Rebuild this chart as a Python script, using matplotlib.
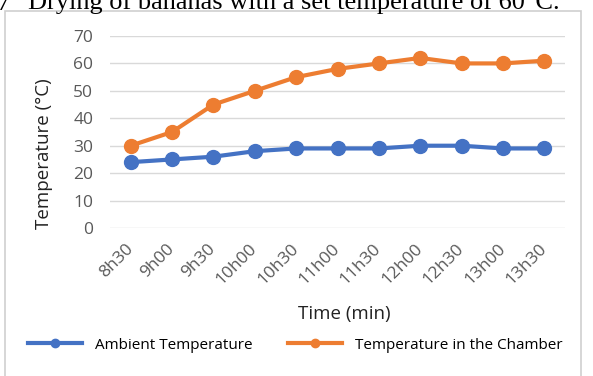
import matplotlib.pyplot as plt
from matplotlib.patches import Rectangle

times = ["8h30", "9h00", "9h30", "10h00", "10h30", "11h00", "11h30",
         "12h00", "12h30", "13h00", "13h30"]
ambient = [24, 25, 26, 28, 29, 29, 29, 30, 30, 29, 29]
chamber = [30, 35, 45, 50, 55, 58, 60, 62, 60, 60, 61]
y_ticks = [0, 10, 20, 30, 40, 50, 60, 70]

plt.rcParams['font.family'] = ['Open Sans', 'DejaVu Sans']

W, H = 593, 376
fig = plt.figure(figsize=(W / 100, H / 100), dpi=100)

# border of the chart box
fig.patches.append(Rectangle((5 / W, -0.05), 576 / W, 1.05 - 11 / H, transform=fig.transFigure,
                             fill=False, edgecolor='#cfcfcf', linewidth=1.2))

# caption of the figure, cut off at the top
fig.text(-4 / W, 1 - 9.5 / H, "7", ha='left', va='baseline', fontsize=19,
         family='Liberation Serif', color='black')
fig.text(28 / W, 1 - 9.5 / H, "Drying of bananas with a set temperature of 60°C.",
         ha='left', va='baseline', fontsize=19, family='Liberation Serif', color='black')

ax = fig.add_axes([110 / W, 1 - 228 / H, 455 / W, 192 / H])
x = range(len(times))
ax.plot(x, ambient, color='#4472C4', lw=3, marker='o', ms=10, label='Ambient Temperature')
ax.plot(x, chamber, color='#ED7D31', lw=3, marker='o', ms=10, label='Temperature in the Chamber')

ax.set_xlim(-0.5, len(times) - 0.5)
ax.set_ylim(0, 70)
ax.set_yticks(y_ticks)
ax.set_xticks(list(x))
ax.set_xticklabels(times, rotation=45, ha='right', va='center', rotation_mode='anchor')
ax.tick_params(length=0, labelsize=12.5, colors='#595959')
ax.tick_params(axis='y', pad=12)
ax.tick_params(axis='x', pad=13)
ax.grid(axis='y', color='#d9d9d9', lw=1)
ax.set_axisbelow(True)
for s in ax.spines.values():
    s.set_visible(False)

ax.set_ylabel("Temperature (°C)", fontsize=13.5, color='#222222')
ax.yaxis.set_label_coords(-0.125, 0.385)
ax.set_xlabel("Time (min)", fontsize=13.5, color='#222222')
ax.xaxis.set_label_coords(0.516, -0.40)

leg = ax.legend(loc='center', bbox_to_anchor=(0.5 - 42 / 455, -0.61), ncol=2, frameon=False,
                fontsize=11, handlelength=3.5, handletextpad=0.9, columnspacing=2.3)
for h in leg.legend_handles:
    h.set_markersize(6)

plt.savefig("out.png", dpi=100)
